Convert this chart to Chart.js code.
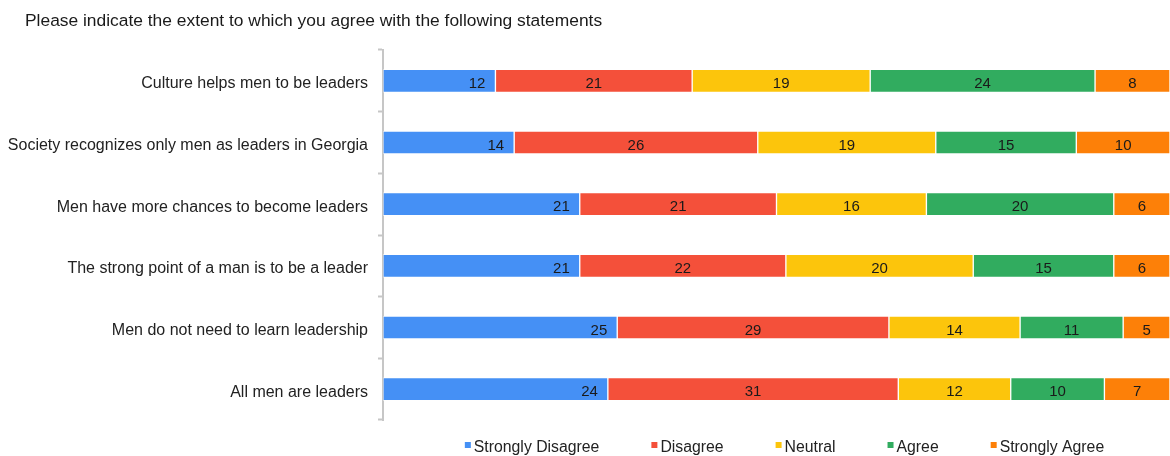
<!DOCTYPE html>
<html>
<head>
<meta charset="utf-8">
<script src="https://cdn.jsdelivr.net/npm/chart.js@4.4.1/dist/chart.umd.min.js"></script>
<style>
  html, body { margin: 0; padding: 0; background: #ffffff; }
  #wrap { width: 1170px; height: 456px; position: relative; }
</style>
</head>
<body>
<div id="wrap"><canvas id="c" width="1170" height="456"></canvas></div>
<script>
// Survey statements (one horizontal bar each)
const statements = [
  'Culture helps men to be leaders',
  'Society recognizes only men as leaders in Georgia',
  'Men have more chances to become leaders',
  'The strong point of a man is to be a leader',
  'Men do not need to learn leadership',
  'All men are leaders'
];

// Answer counts per statement
const stronglyDisagree = [12, 14, 21, 21, 25, 24];
const disagree         = [21, 26, 21, 22, 29, 31];
const neutral          = [19, 19, 16, 20, 14, 12];
const agree            = [24, 15, 20, 15, 11, 10];
const stronglyAgree    = [8, 10, 6, 6, 5, 7];

const seriesNames = ['Strongly Disagree', 'Disagree', 'Neutral', 'Agree', 'Strongly Agree'];
const seriesColors = ['#4590f5', '#f4503a', '#fcc50c', '#31ac5f', '#fd8008'];
const seriesValues = [stronglyDisagree, disagree, neutral, agree, stronglyAgree];

const chartTitle = 'Please indicate the extent to which you agree with the following statements';

const FONT = '"Liberation Sans", Arial, sans-serif';

// Heading line above the plot
const heading = {
  id: 'heading',
  afterDraw(chart) {
    const ctx = chart.ctx;
    ctx.save();
    ctx.font = '17.4px ' + FONT;
    ctx.fillStyle = '#1a1a1a';
    ctx.textAlign = 'left';
    ctx.textBaseline = 'middle';
    ctx.fillText(chartTitle, 25, 21);
    ctx.restore();
  }
};

// Count labels written inside each segment
const segmentLabels = {
  id: 'segmentLabels',
  afterDatasetsDraw(chart) {
    const ctx = chart.ctx;
    ctx.save();
    ctx.font = '15px ' + FONT;
    ctx.fillStyle = '#1a1a1a';
    ctx.textBaseline = 'middle';
    chart.data.datasets.forEach((ds, di) => {
      const meta = chart.getDatasetMeta(di);
      meta.data.forEach((bar, i) => {
        const v = ds.data[i];
        const left = bar.base, right = bar.x;
        if (di === 0) {
          ctx.textAlign = 'right';
          ctx.fillText(String(v), right - 10, bar.y + 3);
        } else {
          ctx.textAlign = 'center';
          ctx.fillText(String(v), (left + right) / 2, bar.y + 3);
        }
      });
    });
    ctx.restore();
  }
};

// Legend row under the plot: small squares and series names
const bottomLegend = {
  id: 'bottomLegend',
  afterDraw(chart) {
    const ctx = chart.ctx;
    const box = 6, gap = 3, spacing = 52;
    ctx.save();
    ctx.font = '15.8px ' + FONT;
    const widths = chart.data.datasets.map(ds => box + gap + ctx.measureText(ds.label).width);
    const total = widths.reduce((a, b) => a + b, 0) + spacing * (widths.length - 1);
    const area = chart.chartArea;
    let x = (area.left + area.right) / 2 + 8 - total / 2;
    const y = 447;
    ctx.textBaseline = 'middle';
    ctx.textAlign = 'left';
    chart.data.datasets.forEach((ds, i) => {
      ctx.fillStyle = ds.backgroundColor;
      ctx.fillRect(x, y - 5, box, box);
      ctx.fillStyle = '#222222';
      ctx.fillText(ds.label, x + box + gap, y + 1);
      x += widths[i] + spacing;
    });
    ctx.restore();
  }
};

new Chart(document.getElementById('c'), {
  type: 'bar',
  data: {
    labels: statements,
    datasets: seriesNames.map((name, i) => ({
      label: name,
      data: seriesValues[i],
      backgroundColor: seriesColors[i],
      borderColor: 'rgba(255,255,255,0.45)',
      borderWidth: 1,
      borderSkipped: false,
      barThickness: 23
    }))
  },
  options: {
    indexAxis: 'y',
    responsive: false,
    animation: false,
    devicePixelRatio: 1,
    layout: { padding: { left: 0, right: 0, top: 50, bottom: 36 } },
    plugins: {
      legend: { display: false },
      tooltip: { enabled: false },
      title: { display: false }
    },
    scales: {
      x: {
        stacked: true,
        min: 0,
        max: 84,
        display: false
      },
      y: {
        stacked: true,
        afterFit(scale) { scale.width = 383; },
        border: { display: true, color: '#c6c6c6', width: 2 },
        grid: {
          display: true,
          offset: true,
          drawOnChartArea: false,
          drawTicks: true,
          tickLength: 5,
          tickWidth: 2,
          color: '#c6c6c6'
        },
        ticks: {
          color: '#222222',
          padding: 10,
          labelOffset: 3,
          font: { family: FONT, size: 16 }
        }
      }
    }
  },
  plugins: [heading, segmentLabels, bottomLegend]
});
</script>
</body>
</html>
